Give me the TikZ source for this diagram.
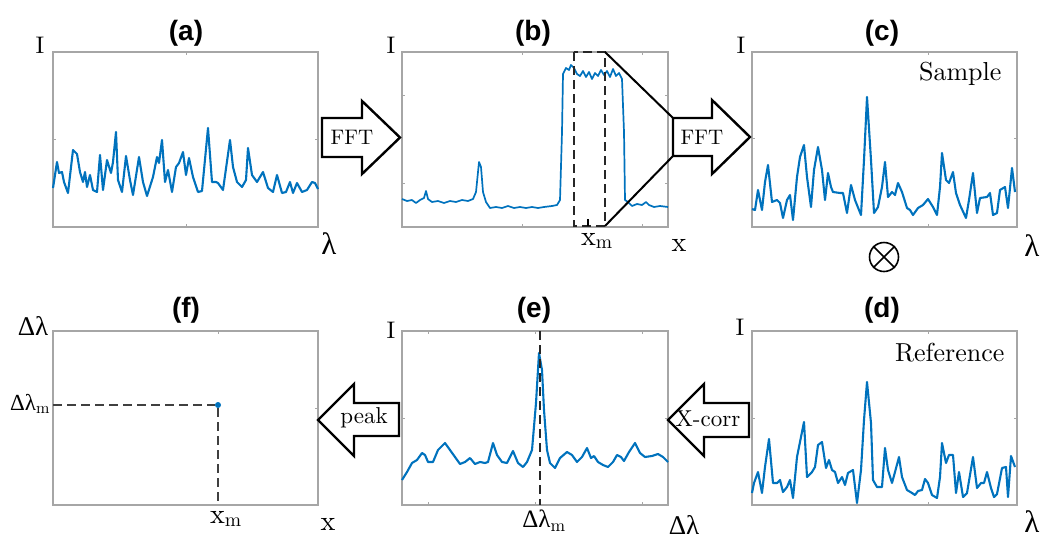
\documentclass[tikz,border=0pt]{standalone}
\usepackage{fontspec}
\setmainfont{lmroman10-regular.otf}[BoldFont=lmroman10-bold.otf]
\setsansfont{Liberation Sans}
\newfontfamily\grk{Liberation Serif}
\definecolor{mblue}{RGB}{0,114,189}

\begin{document}
\begin{tikzpicture}[x=1pt,y=-1pt,
  frame/.style={line width=1.1pt, black!35},
  tick/.style={line width=0.9pt, black!35},
  curve/.style={line width=2.1pt, mblue, line join=round},
  bigarrow/.style={line width=2.4pt, fill=white, line join=miter},
  dashline/.style={line width=2.2pt, black!85, dash pattern=on 9pt off 5pt},
  ttl/.style={font=\fontsize{28}{30}\selectfont\sffamily\bfseries},
  axlab/.style={font=\fontsize{28}{30}\selectfont},
  ilab/.style={font=\fontsize{24}{26}\selectfont},
  arrtxt/.style={font=\fontsize{21}{23}\selectfont},
  tag/.style={font=\fontsize{26}{28}\selectfont, anchor=base east}]
\useasboundingbox (0,0) rectangle (1050,547);

% (a) spectrum
\begin{scope}[shift={(53,52)}]
\draw[frame] (0,0) rectangle (265,175);
\foreach \u in {133} {\draw[tick] (\u,0) -- (\u,3) (\u,175) -- (\u,172);}
\foreach \v in {87} {\draw[tick] (0,\v) -- (3,\v) (265,\v) -- (262,\v);}
\draw[curve] plot coordinates {(0,136) (4,110) (6,121) (9,120) (11,130) (15,141) (20,98)
  (24,102) (27,120) (30,130) (32,120) (34,135) (37,123) (40,138) (44,140) (47,103) (50,138)
  (54,108) (58,121) (60,110) (63,80) (65,128) (69,140) (73,104) (77,128) (80,143) (86,105)
  (90,130) (94,144) (100,125) (104,105) (106,111) (109,88) (112,130) (115,118) (119,140)
  (123,115) (126,111) (130,100) (133,123) (136,106) (140,125) (145,140) (149,139) (155,76)
  (159,130) (163,130) (165,131) (170,138) (177,88) (180,115) (184,130) (189,135) (193,128)
  (195,96) (199,123) (204,130) (210,120) (215,136) (220,140) (224,123) (229,141) (233,140)
  (237,130) (240,141) (244,131) (249,140) (254,138) (259,130) (262,131) (265,137)};
\end{scope}
\node[ttl] (ta) at (186,33) {(a)};
\node[ilab] (ia) at (40,45) {I};
\node[axlab, font=\fontsize{31}{33}\selectfont] (la) at (329,244) {\grk λ};

% (b) FFT with zoom window
\begin{scope}[shift={(402,52)}]
\draw[frame] (0,0) rectangle (266,175);
\foreach \u in {120,240} {\draw[tick] (\u,0) -- (\u,3) (\u,175) -- (\u,172);}
\foreach \v in {43,131} {\draw[tick] (0,\v) -- (3,\v) (266,\v) -- (263,\v);}
\draw[curve, line width=1.7pt] plot coordinates {(0,147) (5,149) (10,148) (14,151) (18,148)
  (22,146) (24,139) (26,147) (30,150) (36,149) (42,151) (48,149) (54,150) (60,148) (66,149)
  (71,147) (74,140) (77,110) (79,115) (81,140) (84,150) (88,156) (94,155) (100,156) (106,154)
  (112,156) (118,155) (124,156) (130,155) (136,156) (142,155) (150,154) (155,153) (158,148)
  (160,80) (161,22) (164,16) (167,18) (169,13) (172,16) (175,22) (178,24) (181,19) (184,25)
  (187,20) (190,27) (193,21) (196,24) (199,18) (202,23) (205,19) (208,25) (211,17) (214,24)
  (217,21) (220,27) (222,80) (223,148) (226,150) (230,154) (235,152) (240,153) (244,150)
  (247,153) (252,155) (258,154) (266,155)};
\draw[dashline] (172,0) rectangle (203,174);
\draw[line width=1.4pt] (186,174) -- (186,167);
\end{scope}
\coordinate (wintop) at (605,52);
\coordinate (winbot) at (605,226);
\node[ttl] (tb) at (533,33) {(b)};
\node[ilab] (ib) at (391,45) {I};
\node[axlab] (xb) at (679,245) {x};
\node[axlab] (xmb) at (597,241) {x$_{\mathrm{m}}$};

% (c) sample
\begin{scope}[shift={(752,52)}]
\draw[frame] (0,0) rectangle (265,175);
\foreach \u in {176} {\draw[tick] (\u,0) -- (\u,3) (\u,175) -- (\u,172);}
\foreach \v in {86} {\draw[tick] (0,\v) -- (3,\v) (265,\v) -- (262,\v);}
\draw[curve] plot coordinates {(0,157) (3,158) (6,138) (10,158) (13,130) (16,113) (20,150)
  (25,148) (28,151) (31,166) (35,148) (38,143) (41,168) (45,125) (48,105) (52,93) (55,125)
  (59,155) (62,118) (66,95) (70,118) (73,148) (76,121) (79,135) (81,140) (88,141) (91,141)
  (95,161) (99,133) (103,148) (109,163) (112,108) (115,45) (119,108) (122,161) (126,155)
  (130,135) (133,110) (136,145) (140,140) (143,143) (146,131) (150,140) (155,156) (158,158)
  (161,163) (166,156) (171,153) (176,147) (181,155) (185,163) (188,135) (190,101) (194,128)
  (197,131) (201,120) (204,141) (208,153) (214,166) (217,148) (221,121) (225,161) (228,146)
  (235,145) (238,141) (241,163) (245,161) (248,138) (253,135) (256,156) (260,116) (263,140)};
\end{scope}
\node[ttl] (tc) at (882,33) {(c)};
\node[ilab] (ic) at (741,45) {I};
\node[axlab, font=\fontsize{31}{33}\selectfont] (lc) at (1032,246) {\grk λ};
\node[tag] (sample) at (1005,80) {Sample};
\node[draw, circle, line width=1.6pt, minimum size=29pt, inner sep=0pt] (conv) at (884,257) {};
\draw[line width=1.6pt] (conv.north west) -- (conv.south east) (conv.north east) -- (conv.south west);

% (d) reference
\begin{scope}[shift={(752,331)}]
\draw[frame] (0,0) rectangle (265,174);
\foreach \u in {176} {\draw[tick] (\u,0) -- (\u,3) (\u,174) -- (\u,171);}
\foreach \v in {87} {\draw[tick] (0,\v) -- (3,\v) (265,\v) -- (262,\v);}
\draw[curve] plot coordinates {(0,162) (2,152) (6,141) (10,162) (13,136) (17,108) (21,152)
  (25,152) (28,149) (31,161) (35,156) (38,149) (41,167) (45,126) (49,106) (52,91) (55,146)
  (60,141) (63,136) (66,114) (70,111) (74,137) (77,129) (80,139) (83,141) (86,152) (90,146)
  (93,154) (96,142) (101,139) (105,172) (109,139) (112,89) (115,51) (119,92) (121,149)
  (125,156) (130,156) (133,117) (136,139) (140,152) (143,141) (147,126) (150,146) (155,159)
  (160,162) (163,164) (166,160) (170,159) (173,148) (176,152) (180,164) (185,167) (188,146)
  (190,112) (194,132) (197,124) (201,124) (204,162) (207,141) (211,166) (215,162) (221,126)
  (225,157) (229,152) (232,152) (235,141) (239,157) (242,166) (245,163) (250,137) (254,136)
  (256,166) (259,125) (263,136)};
\end{scope}
\node[ttl] (td) at (882,310) {(d)};
\node[ilab] (id) at (740,327) {I};
\node[axlab, font=\fontsize{31}{33}\selectfont] (ld) at (1032,522) {\grk λ};
\node[tag] (refer) at (1008,361) {Reference};

% (e) cross-correlation
\begin{scope}[shift={(402,331)}]
\draw[frame] (0,0) rectangle (266,174);
\foreach \u in {26,133,240} {\draw[tick] (\u,0) -- (\u,3) (\u,174) -- (\u,171);}
\foreach \v in {87} {\draw[tick] (0,\v) -- (3,\v) (266,\v) -- (263,\v);}
\draw[curve] plot coordinates {(0,149) (5,141) (10,132) (15,129) (20,122) (23,124) (26,131)
  (31,131) (36,119) (43,112) (48,119) (53,126) (58,133) (63,131) (68,127) (73,133) (78,131)
  (83,132) (86,131) (91,112) (95,124) (100,131) (105,132) (111,120) (116,132) (121,136)
  (125,131) (130,119) (134,72) (137,22) (140,39) (142,79) (145,119) (148,132) (153,137)
  (158,127) (165,121) (170,124) (175,131) (180,126) (185,117) (189,127) (192,125) (196,131)
  (201,134) (206,136) (211,131) (215,124) (219,126) (222,130) (227,121) (233,112) (238,122)
  (243,126) (250,125) (256,123) (261,126) (266,131)};
\draw[dashline] (138,0) -- (138,174);
\end{scope}
\node[ttl] (te) at (534,310) {(e)};
\node[ilab] (ie) at (391,330) {I};
\node[axlab, font=\fontsize{25}{27}\selectfont] (dle) at (544,521) {\grk Δλ$_{\mathrm{m}}$};
\node[axlab, font=\fontsize{27}{29}\selectfont] (dlx) at (684,525) {\grk Δλ};

% (f) map of peaks
\begin{scope}[shift={(53,331)}]
\draw[frame] (0,0) rectangle (265,174);
\foreach \u in {165} {\draw[tick] (\u,0) -- (\u,3);}
\foreach \v in {77} {\draw[tick] (265,\v) -- (262,\v);}
\end{scope}
\node[circle, fill=mblue, inner sep=0pt, minimum size=6pt] (pk) at (218,405) {};
\coordinate (pkleft) at (53,405);
\coordinate (pkdown) at (218,505);
\draw[dashline, black!75, line width=1.8pt] (pkleft) -- (pk) -- (pkdown);
\node[ttl] (tf) at (186,310) {(f)};
\node[axlab, font=\fontsize{27}{29}\selectfont] (dlf) at (33,326) {\grk Δλ};
\node[axlab, font=\fontsize{23}{25}\selectfont] (dlm) at (30,404) {\grk Δλ$_{\mathrm{m}}$};
\node[axlab] (xmf) at (226,519) {x$_{\mathrm{m}}$};
\node[axlab] (xf) at (328,524) {x};

% block arrows
\draw[bigarrow] (322,118) -- (362,118) -- (362,101) -- (400,137.5) -- (362,174) -- (362,157)
  -- (322,157) -- cycle;
\node[arrtxt] (fft1) at (352,137) {FFT};
\draw[bigarrow] (673,118) -- (712,118) -- (712,100) -- (750,137) -- (712,174) -- (712,156)
  -- (673,156) -- cycle;
\node[arrtxt] (fft2) at (702,137) {FFT};
\coordinate (fftin1) at (673,118);
\coordinate (fftin2) at (673,156);
\draw[line width=2pt] (wintop) -- (fftin1) (winbot) -- (fftin2);
\draw[bigarrow] (399,403) -- (354,403) -- (354,384) -- (318,420) -- (354,456) -- (354,436)
  -- (399,436) -- cycle;
\node[arrtxt, font=\fontsize{23}{25}\selectfont] (peak) at (364,418) {peak};
\draw[bigarrow] (749,403) -- (704,403) -- (704,384) -- (668,420) -- (704,456) -- (704,437)
  -- (749,437) -- cycle;
\node[arrtxt, font=\fontsize{23}{25}\selectfont] (xcorr) at (708,419) {X-corr};
\end{tikzpicture}
\end{document}
